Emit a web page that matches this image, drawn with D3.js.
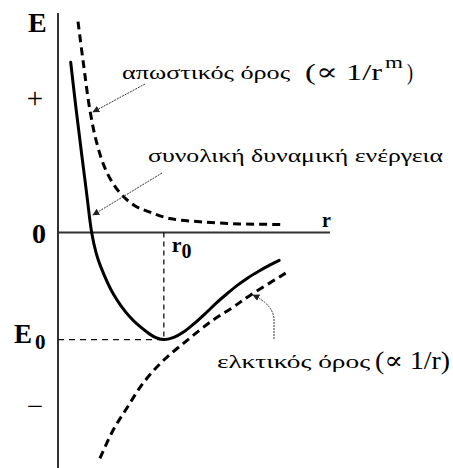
<!DOCTYPE html>
<html>
<head>
<meta charset="utf-8">
<script src="https://cdn.jsdelivr.net/npm/d3@7"></script>
<style>
  html, body { margin: 0; padding: 0; background: #fff; }
  svg { display: block; }
  text { font-family: "Liberation Serif", "DejaVu Serif", serif; fill: #000; }
</style>
</head>
<body>
<svg id="chart" width="453" height="468"></svg>
<script>
// Potential energy curves, r in units of r0, E in units of |E0|
const totalR  = [0.12, 0.17, 0.22, 0.27, 0.318, 0.36, 0.40, 0.52, 0.68, 0.84, 0.92, 1.0, 1.08, 1.2, 1.3, 1.4, 1.5, 1.6, 1.7, 1.8, 1.9, 2.0, 2.09];
const totalE  = [1.59, 1.16, 0.76, 0.37, 0.0, -0.19, -0.31, -0.57, -0.79, -0.93, -0.98, -1.0, -0.985, -0.92, -0.84, -0.75, -0.655, -0.57, -0.49, -0.42, -0.36, -0.305, -0.26];
const repulR  = [0.189, 0.236, 0.302, 0.368, 0.462, 0.585, 0.726, 0.868, 1.057, 1.34, 1.72, 2.14];
const repulE  = [1.97, 1.61, 1.14, 0.83, 0.56, 0.37, 0.25, 0.19, 0.13, 0.10, 0.08, 0.075];
const attrR   = [0.396, 0.519, 0.651, 0.802, 0.991, 1.217, 1.462, 1.651, 1.811, 2.151];
const attrE   = [-2.11, -1.85, -1.64, -1.41, -1.20, -1.01, -0.82, -0.70, -0.59, -0.38];

// Equilibrium point
const r0 = 1.0;
const E0 = -1.0;

// Axis tick labels
const yTickValues = [1.24, -1.64];
const yTickLabels = ["+", "\u2212"];

const svg = d3.select("#chart");

const x = d3.scaleLinear().domain([0, 2.57]).range([58, 330]);
const y = d3.scaleLinear().domain([-2.2, 2.05]).range([468, 13]);

// Arrow marker
const defs = svg.append("defs");
defs.append("marker")
  .attr("id", "arrow")
  .attr("viewBox", "0 0 10 10")
  .attr("refX", 9).attr("refY", 5)
  .attr("markerWidth", 7).attr("markerHeight", 7)
  .attr("markerUnits", "userSpaceOnUse")
  .attr("orient", "auto")
  .append("path").attr("d", "M0,0 L10,5 L0,10 Z").attr("fill", "#222");

// Axes
svg.append("line")
  .attr("x1", x(0)).attr("x2", x(0))
  .attr("y1", y(2.05)).attr("y2", y(-2.2))
  .attr("stroke", "#333").attr("stroke-width", 2);
svg.append("line")
  .attr("x1", x(0)).attr("x2", x(2.57))
  .attr("y1", y(0)).attr("y2", y(0))
  .attr("stroke", "#333").attr("stroke-width", 2);

// Guides to the minimum
svg.append("line")
  .attr("x1", x(r0)).attr("x2", x(r0))
  .attr("y1", y(0)).attr("y2", y(E0) - 2)
  .attr("stroke", "#111").attr("stroke-width", 1.3)
  .attr("stroke-dasharray", "5,4");
svg.append("line")
  .attr("x1", x(0)).attr("x2", x(r0))
  .attr("y1", y(E0)).attr("y2", y(E0))
  .attr("stroke", "#111").attr("stroke-width", 1.3)
  .attr("stroke-dasharray", "6,5");

const line = d3.line()
  .x(d => x(d[0]))
  .y(d => y(d[1]))
  .curve(d3.curveCatmullRom.alpha(0.5));

// Repulsive term
svg.append("path")
  .attr("d", line(d3.zip(repulR, repulE)))
  .attr("fill", "none").attr("stroke", "#000")
  .attr("stroke-width", 3).attr("stroke-dasharray", "8,5");

// Attractive term
svg.append("path")
  .attr("d", line(d3.zip(attrR, attrE)))
  .attr("fill", "none").attr("stroke", "#000")
  .attr("stroke-width", 3).attr("stroke-dasharray", "8,5");

// Total potential energy
svg.append("path")
  .attr("d", line(d3.zip(totalR, totalE)))
  .attr("fill", "none").attr("stroke", "#000")
  .attr("stroke-width", 3).attr("stroke-linecap", "round");

// Axis labels
function label(txt, px, py, attrs) {
  const t = svg.append("text").attr("x", px).attr("y", py).text(txt);
  Object.entries(attrs || {}).forEach(([k, v]) => t.attr(k, v));
  return t;
}
label("E", 28, 32, { "font-weight": "bold", "font-size": "28px" });
label("0", 32, 243, { "font-weight": "bold", "font-size": "28px" });
label("r", 322, 227, { "font-weight": "bold", "font-size": "20px" });

const r0Label = svg.append("text").attr("x", x(r0) + 8).attr("y", y(0) + 20)
  .attr("font-weight", "bold").attr("font-size", "22px");
r0Label.append("tspan").text("r");
r0Label.append("tspan").attr("font-size", "20px").attr("dy", 6).text("0");

const e0Label = svg.append("text").attr("x", 14).attr("y", y(E0) + 3)
  .attr("font-weight", "bold").attr("font-size", "27px");
e0Label.append("tspan").text("E");
e0Label.append("tspan").attr("font-size", "21px").attr("dx", 3).attr("dy", 6).text("0");

svg.selectAll("text.ytick")
  .data(yTickValues)
  .join("text")
  .attr("class", "ytick")
  .attr("x", 35)
  .attr("y", d => y(d) + 8)
  .attr("text-anchor", "middle")
  .attr("font-size", "29px")
  .text((d, i) => yTickLabels[i]);

// Annotations
function stretched(txt, px, py, size, len) {
  return svg.append("text").attr("x", px).attr("y", py)
    .attr("font-size", size + "px")
    .attr("textLength", len).attr("lengthAdjust", "spacingAndGlyphs")
    .text(txt);
}

stretched("απωστικός όρος", 122, 79, 19, 168);
stretched("(∝ 1/r", 305, 80, 24, 77);
stretched("m", 385, 68, 17, 18);
stretched(")", 407, 80, 24, 6);

stretched("συνολική δυναμική ενέργεια", 148, 162, 19, 295);

stretched("ελκτικός όρος", 217, 368, 19, 153);
stretched("(∝ 1/r)", 375, 369, 25, 75);

const arrowStyle = p => p.attr("fill", "none").attr("stroke", "#333")
  .attr("stroke-width", 1).attr("stroke-dasharray", "2,1")
  .attr("marker-end", "url(#arrow)");

svg.append("path").attr("d", "M145,84 L93,112").call(arrowStyle);
svg.append("path").attr("d", "M162,173 L93,215").call(arrowStyle);
svg.append("path").attr("d", "M274,339 L274,318 Q272,304 253,295").call(arrowStyle);
</script>
</body>
</html>
